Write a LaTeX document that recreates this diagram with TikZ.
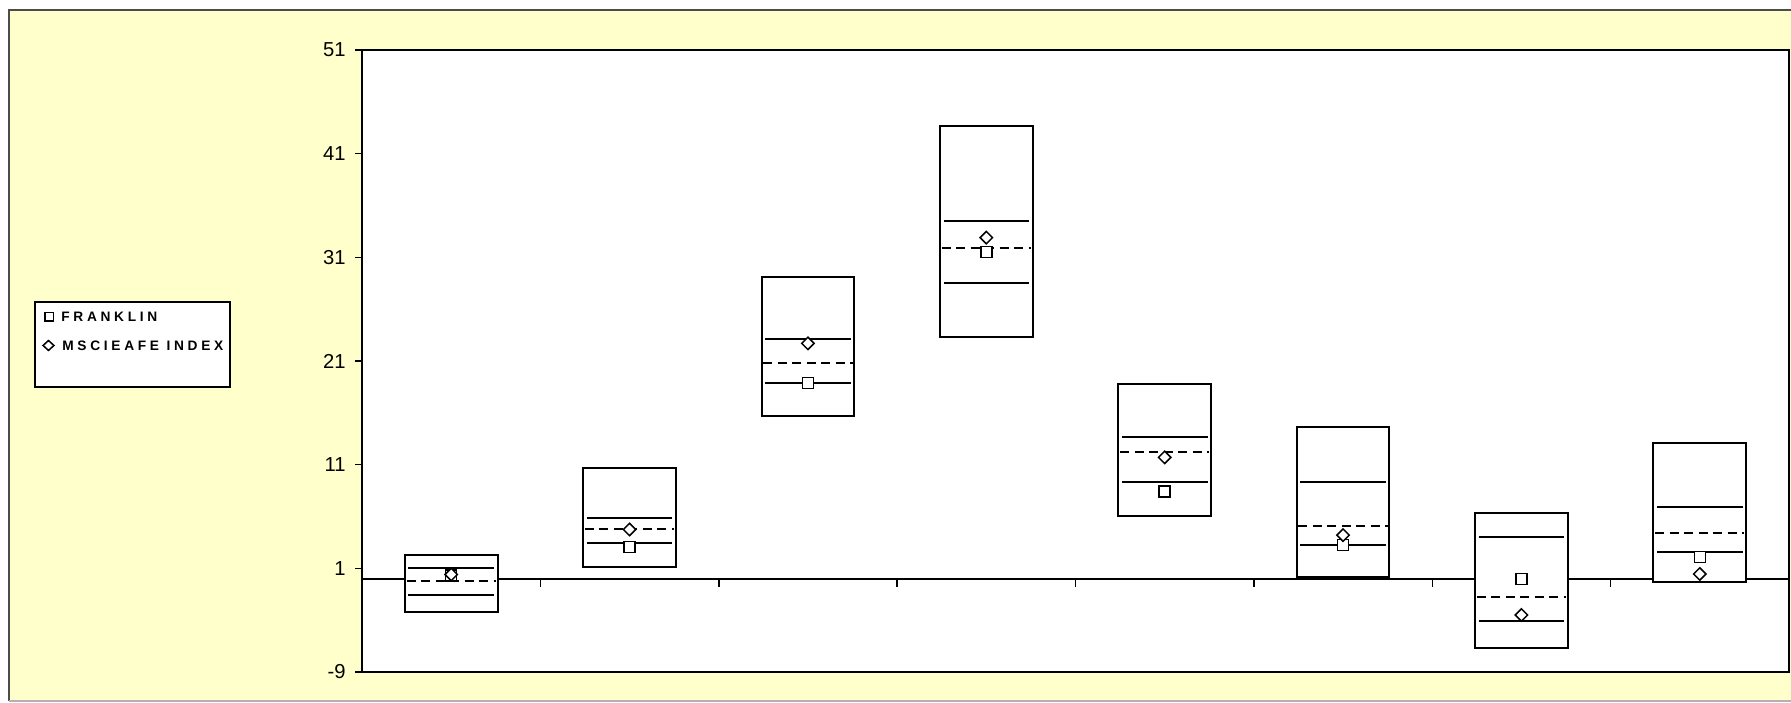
\documentclass[tikz,border=0pt]{standalone}
\usepackage{fontspec}
\setmainfont{Liberation Sans}
\newfontfamily\legfont[LetterSpace=27]{Liberation Sans}
\usetikzlibrary{shapes.geometric}
\definecolor{bgyellow}{RGB}{255,255,204}
\begin{document}
\begin{tikzpicture}
	\tikzset{frame/.style={line width=0.4mm, draw=gray!60!black},
		boxline/.style={line width=0.4mm, draw=black, fill=white},
		midline/.style={line width=0.4mm, dash pattern=on 1.8mm off 1.1mm},
		sq/.style={rectangle, draw=black, fill=white, line width=0.3mm, minimum size=2.2mm, inner sep=0},
		di/.style={diamond, draw=black, fill=white, line width=0.3mm, minimum size=2.6mm, inner sep=0},
		lab/.style={anchor=east, font=\fontsize{11.5}{12}\selectfont, inner sep=0},
		legtext/.style={anchor=west, inner sep=0, font=\legfont\bfseries\fontsize{7.8}{9}\selectfont}}
	\useasboundingbox (0,0) rectangle (35.82,14.06);

	% background
	\fill[bgyellow] (0.18,0.04) rectangle (35.82,13.86);
	\draw[frame] (35.82,13.86) -- (0.18,13.86) -- (0.18,0.04);
	\draw[line width=0.4mm, draw=gray!60] (0.18,0.04) -- (35.82,0.04);

	% legend
	\node[draw, fill=white, line width=0.35mm, minimum width=3.9cm, minimum height=1.7cm, anchor=north west] at (0.68,8.04) (leg) {};
	\node[sq, minimum size=1.7mm] at (0.98,7.72) (lsq) {};
	\node[di, minimum width=2.3mm, minimum height=2.1mm] at (0.97,7.15) (ldi) {};
	\node[legtext] at (1.22,7.72) (lfr) {FRANKLIN};
	\node[legtext] at (1.24,7.15) (lms) {MSCIEAFE INDEX};

	\begin{scope}[shift={(7.24cm,2.486cm)}, x=3.5675cm, y=0.20733cm]
		% plot area and axes
		\draw[line width=0.45mm, fill=white] (0,-9) rectangle (8,51);
		\draw[line width=0.4mm] (0,0) -- (8,0);
		\draw[line width=0.3mm] (1,0) -- (1,-0.8) (2,0) -- (2,-0.8) (3,0) -- (3,-0.8) (4,0) -- (4,-0.8)
			(5,0) -- (5,-0.8) (6,0) -- (6,-0.8) (7,0) -- (7,-0.8);
		\draw[line width=0.3mm] (0,51) -- (-0.04,51) (0,41) -- (-0.04,41) (0,31) -- (-0.04,31) (0,21) -- (-0.04,21)
			(0,11) -- (-0.04,11) (0,1) -- (-0.04,1) (0,-9) -- (-0.04,-9);

		% y labels
		\node[lab] at (-0.09,51) (y51) {51};
		\node[lab] at (-0.09,41) (y41) {41};
		\node[lab] at (-0.09,31) (y31) {31};
		\node[lab] at (-0.09,21) (y21) {21};
		\node[lab] at (-0.09,11) (y11) {11};
		\node[lab] at (-0.09,1) (y1) {1};
		\node[lab] at (-0.09,-9) (ym9) {-9};

		% boxes
		\draw[boxline] (0.24,-3.2) rectangle (0.76,2.3);
		\draw[boxline] (1.24,1.15) rectangle (1.76,10.7);
		\draw[boxline] (2.24,15.7) rectangle (2.76,29.1);
		\draw[boxline] (3.24,23.3) rectangle (3.76,43.7);
		\draw[boxline] (4.24,6.0) rectangle (4.76,18.8);
		\draw[boxline] (5.24,0.2) rectangle (5.76,14.65);
		\draw[boxline] (6.24,-6.65) rectangle (6.76,6.35);
		\draw[boxline] (7.24,-0.35) rectangle (7.76,13.05);

		% solid lines
		\draw[line width=0.4mm] (0.26,1.0) -- (0.74,1.0) (0.26,-1.6) -- (0.74,-1.6);
		\draw[line width=0.4mm] (1.26,5.9) -- (1.74,5.9) (1.26,3.4) -- (1.74,3.4);
		\draw[line width=0.4mm] (2.26,23.1) -- (2.74,23.1) (2.26,18.85) -- (2.74,18.85);
		\draw[line width=0.4mm] (3.26,34.5) -- (3.74,34.5) (3.26,28.55) -- (3.74,28.55);
		\draw[line width=0.4mm] (4.26,13.7) -- (4.74,13.7) (4.26,9.35) -- (4.74,9.35);
		\draw[line width=0.4mm] (5.26,9.3) -- (5.74,9.3) (5.26,3.25) -- (5.74,3.25);
		\draw[line width=0.4mm] (6.26,4.0) -- (6.74,4.0) (6.26,-4.05) -- (6.74,-4.05);
		\draw[line width=0.4mm] (7.26,6.95) -- (7.74,6.95) (7.26,2.55) -- (7.74,2.55);

		% dashed lines
		\draw[midline] (0.25,-0.2) -- (0.75,-0.2);
		\draw[midline] (1.25,4.75) -- (1.75,4.75);
		\draw[midline] (2.25,20.8) -- (2.75,20.8);
		\draw[midline] (3.25,31.9) -- (3.75,31.9);
		\draw[midline] (4.25,12.25) -- (4.75,12.25);
		\draw[midline] (5.25,5.1) -- (5.75,5.1);
		\draw[midline] (6.25,-1.75) -- (6.75,-1.75);
		\draw[midline] (7.25,4.4) -- (7.75,4.4);

		% Franklin
		\node[sq] at (0.5,0.32) (s1) {};
		\node[sq] at (1.5,3.05) (s2) {};
		\node[sq] at (2.5,18.9) (s3) {};
		\node[sq] at (3.5,31.5) (s4) {};
		\node[sq] at (4.5,8.4) (s5) {};
		\node[sq] at (5.5,3.25) (s6) {};
		\node[sq] at (6.5,-0.05) (s7) {};
		\node[sq] at (7.5,2.1) (s8) {};

		% MSCI EAFE
		\node[di] at (0.5,0.4) (d1) {};
		\node[di] at (1.5,4.75) (d2) {};
		\node[di] at (2.5,22.7) (d3) {};
		\node[di] at (3.5,32.9) (d4) {};
		\node[di] at (4.5,11.7) (d5) {};
		\node[di] at (5.5,4.2) (d6) {};
		\node[di] at (6.5,-3.5) (d7) {};
		\node[di] at (7.5,0.45) (d8) {};
	\end{scope}
\end{tikzpicture}
\end{document}
